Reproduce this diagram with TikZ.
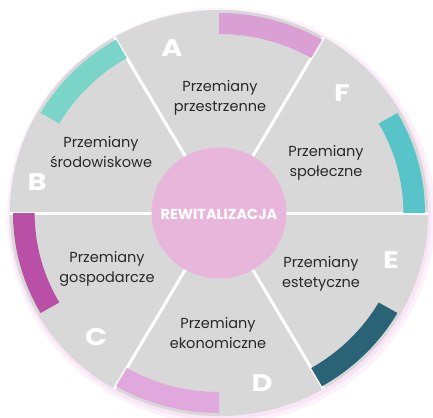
\documentclass[tikz,border=0pt]{standalone}
\usepackage{fontspec}
\setmainfont{Poppins}
\definecolor{sector}{RGB}{216,216,216}
\definecolor{centerpink}{RGB}{232,182,218}
\definecolor{arcA}{RGB}{218,160,214}
\definecolor{arcF}{RGB}{88,196,202}
\definecolor{arcB}{RGB}{122,212,200}
\definecolor{arcC}{RGB}{186,80,166}
\definecolor{arcD}{RGB}{224,168,220}
\definecolor{arcE}{RGB}{42,98,118}
\definecolor{txt}{RGB}{40,40,40}
\definecolor{glow}{RGB}{245,210,238}
\tikzset{
  label/.style={align=center, text=txt, font=\fontsize{14.5}{20}\selectfont, inner sep=0pt},
  letter/.style={text=white, font=\fontsize{24}{24}\selectfont\bfseries, inner sep=0pt},
  sep/.style={white, line width=3pt},
}
\newcommand{\wideletter}[1]{\scalebox{1.2}[1]{#1}}
\begin{document}
\begin{tikzpicture}[x=1pt,y=-1pt]
\useasboundingbox (0,0) rectangle (433,417);
\fill[white] (0,0) rectangle (433,417);
\begin{scope}[shift={(219,213)}, yscale=-1, xscale=1.03]
  \fill[glow, opacity=0.25] (2,-3) circle[radius=208];
  \fill[glow, opacity=0.4] (1,-2) circle[radius=205];
  \fill[sector] (0,0) circle[radius=203];
  \coordinate (O) at (0,0);
  \foreach \a in {0,60,120,180,240,300} {
    \coordinate (e\a) at (\a:203);
    \draw[sep] (O) -- (e\a);
  }
  \foreach \a/\c in {0/arcF,60/arcA,120/arcB,180/arcC,240/arcD,300/arcE} {
    \fill[\c] (\a:179) arc[start angle=\a, end angle=\a+30, radius=179]
      -- ({\a+30}:200) arc[start angle=\a+30, end angle=\a, radius=200] -- cycle;
  }
  \fill[centerpink] (O) circle[radius=65.5];
\end{scope}
\node[text=white, font=\fontsize{14.5}{14.5}\selectfont\bfseries, inner sep=0pt] (center) at (219,214) {REWITALIZACJA};
\node[label] (tA) at (220,98) {Przemiany\\przestrzenne};
\node[label] (tF) at (326,163) {Przemiany\\społeczne};
\node[label] (tE) at (321,274) {Przemiany\\estetyczne};
\node[label] (tD) at (218,333) {Przemiany\\ekonomiczne};
\node[label] (tC) at (107,269) {Przemiany\\gospodarcze};
\node[label] (tB) at (101,152) {Przemiany\\środowiskowe};
\node[letter] (lA) at (172,48) {\wideletter{A}};
\node[letter] (lF) at (342,93) {\wideletter{F}};
\node[letter] (lE) at (391,260) {\wideletter{E}};
\node[letter] (lD) at (262,383) {\wideletter{D}};
\node[letter] (lC) at (96,337) {\wideletter{C}};
\node[letter] (lB) at (37,182) {\wideletter{B}};
\end{tikzpicture}
\end{document}
